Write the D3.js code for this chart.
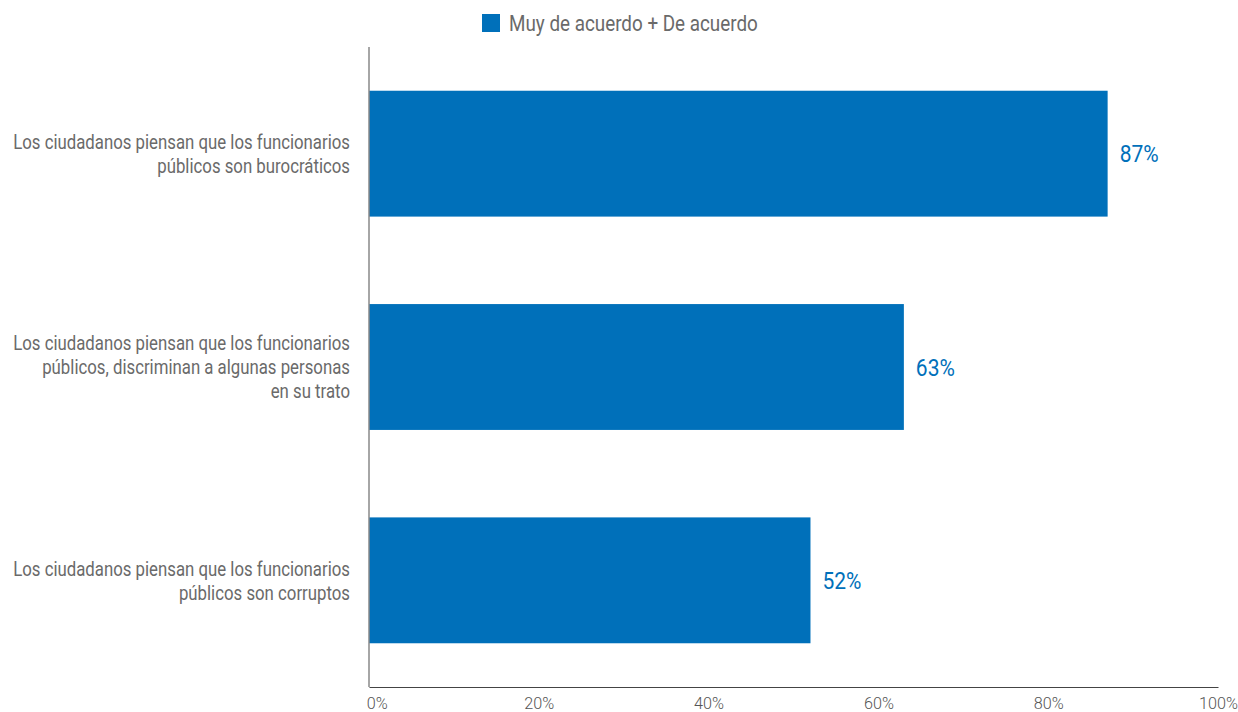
<!DOCTYPE html>
<html>
<head>
<meta charset="utf-8">
<script src="https://cdn.jsdelivr.net/npm/d3@7"></script>
<style>
  html, body { margin: 0; padding: 0; background: #fff; }
  svg text { font-family: "Roboto", "Liberation Sans", sans-serif; }
</style>
</head>
<body>
<svg id="chart" width="1238" height="712"></svg>
<script>
// Survey statements (one entry per bar, lines split for wrapping)
const categories = [
  ["Los ciudadanos piensan que los funcionarios", "públicos son burocráticos"],
  ["Los ciudadanos piensan que los funcionarios", "públicos, discriminan a algunas personas", "en su trato"],
  ["Los ciudadanos piensan que los funcionarios", "públicos son corruptos"]
];
const values = [87, 63, 52];
const seriesName = "Muy de acuerdo + De acuerdo";
const ticks = [0, 20, 40, 60, 80, 100];

const BLUE = "#0070BA";
const GREY = "#6a6a6a";

const svg = d3.select("#chart");

// Horizontal squeeze that gives a condensed look: width of a sample string
// at the given size, scaled to the wanted width.
function squeeze(sample, size, wanted, weight) {
  const t = svg.append("text").attr("font-size", size).style("font-weight", weight || 400).text(sample);
  const w = t.node().getComputedTextLength();
  t.remove();
  return wanted / w;
}
const sCat = squeeze(categories[0][0], 20, 337);
const sVal = squeeze("87%", 24, 39);
const sLeg = squeeze(seriesName, 22, 249);
const sTick = squeeze("20%", 17, 30, 300);

const margin = { top: 47, right: 20, bottom: 25, left: 369 };
const width = 1218 - margin.left;
const height = 687 - margin.top;

const g = svg.append("g").attr("transform", `translate(${margin.left},${margin.top})`);

const x = d3.scaleLinear().domain([0, 100]).range([0, width]);
const y = d3.scaleBand().domain(d3.range(categories.length)).range([0, height]).paddingInner(0.41).paddingOuter(0.205);

// Bars
g.selectAll("rect.bar").data(values).join("rect")
  .attr("class", "bar")
  .attr("x", 0)
  .attr("y", (d, i) => y(i))
  .attr("width", d => x(d))
  .attr("height", y.bandwidth())
  .attr("fill", BLUE);

// Value labels
g.selectAll("g.val").data(values).join("g")
  .attr("class", "val")
  .attr("transform", (d, i) => `translate(${x(d) + 12},${y(i) + y.bandwidth() / 2}) scale(${sVal},1)`)
  .append("text")
  .attr("dy", "0.36em")
  .attr("fill", BLUE)
  .attr("font-size", 24)
  .text(d => d + "%");

// Category labels, right-aligned left of the axis
const lineH = 24;
g.selectAll("g.cat").data(categories).join("g")
  .attr("class", "cat")
  .attr("transform", (d, i) => `translate(-19,${y(i) + y.bandwidth() / 2}) scale(${sCat},1)`)
  .append("text")
  .attr("text-anchor", "end")
  .attr("fill", GREY)
  .attr("font-size", 20)
  .each(function (lines) {
    const t = d3.select(this);
    const start = -(lines.length - 1) * lineH / 2;
    lines.forEach((ln, k) => {
      t.append("tspan").attr("x", 0).attr("y", start + k * lineH).attr("dy", "0.36em").text(ln);
    });
  });

// Axes
const xAxis = d3.axisBottom(x).tickValues(ticks).tickFormat(d => d + "%").tickSize(0).tickPadding(10);
const ax = g.append("g").attr("transform", `translate(0,${height})`).call(xAxis);
ax.select(".domain").attr("stroke", "#444").attr("stroke-width", 1.2);
ax.selectAll("text").attr("fill", "#555").attr("font-size", 17)
  .style("font-family", "Roboto, sans-serif").style("font-weight", 300)
  .attr("transform", `scale(${sTick},1)`);
ax.selectAll("text").filter(d => d === 0).attr("dx", 8);

g.append("line").attr("x1", 0).attr("x2", 0).attr("y1", 0).attr("y2", height)
  .attr("stroke", "#888").attr("stroke-width", 1.5);

// Legend
const leg = svg.append("g").attr("transform", "translate(482,14)");
leg.append("rect").attr("width", 18).attr("height", 18).attr("fill", BLUE);
leg.append("g").attr("transform", `translate(27,9) scale(${sLeg},1)`)
  .append("text").attr("dy", "0.36em")
  .attr("fill", GREY).attr("font-size", 22).text(seriesName);
</script>
</body>
</html>
